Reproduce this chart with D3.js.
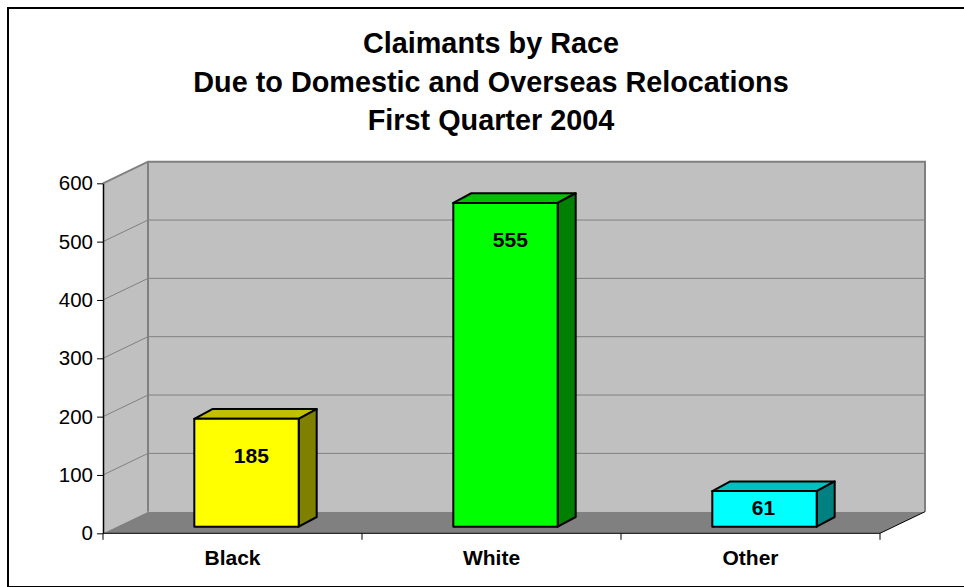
<!DOCTYPE html>
<html>
<head>
<meta charset="utf-8">
<script src="https://cdn.jsdelivr.net/npm/d3@7/dist/d3.min.js"></script>
<style>
  html, body { margin: 0; padding: 0; background: #fff; }
  svg { display: block; font-family: "Liberation Sans", Arial, sans-serif; }
</style>
</head>
<body>
<svg id="chart" width="964" height="587"></svg>
<script>
// Chart data
const titleLines = [
  "Claimants by Race",
  "Due to Domestic and Overseas Relocations",
  "First Quarter 2004"
];
const categories = ["Black", "White", "Other"];
const values = [185, 555, 61];
const yTicks = [0, 100, 200, 300, 400, 500, 600];
const faceColors = ["#ffff00", "#00ff00", "#00ffff"];
const topColors = ["#c0c000", "#00c000", "#00c0c0"];
const sideColors = ["#808000", "#008000", "#008080"];

const svg = d3.select("#chart");

// Plot frame: front plane of the 3D box and the depth offset to the back wall
const plot = { left: 103, right: 880, top: 183.3, bottom: 533.3 };
const wallDepth = { dx: 45, dy: -21.6 };
// Bars sit inside the floor: front face offset and bar thickness
const barFront = { dx: 14, dy: -6.6 };
const barDepth = { dx: 18, dy: -9.7 };
const barWidthFrac = 0.403;

const x = d3.scaleBand().domain(categories).range([plot.left, plot.right]).padding(0);
const y = d3.scaleLinear().domain([0, 600]).range([plot.bottom, plot.top]);

// Outer border
svg.append("rect")
  .attr("x", 8).attr("y", 8)
  .attr("width", 964).attr("height", 579)
  .attr("fill", "none").attr("stroke", "#000").attr("stroke-width", 2);

// Title
svg.append("g").selectAll("text")
  .data(titleLines)
  .join("text")
  .attr("x", 491)
  .attr("y", (d, i) => 53 + i * 38.5)
  .attr("text-anchor", "middle")
  .attr("font-size", 28.8)
  .attr("font-weight", "bold")
  .attr("fill", "#000")
  .text(d => d);

const line = d3.line();
const backL = plot.left + wallDepth.dx;
const backR = plot.right + wallDepth.dx;
const backTop = plot.top + wallDepth.dy;
const backBottom = plot.bottom + wallDepth.dy;

// Left side wall
svg.append("path")
  .attr("d", line([[plot.left, plot.bottom], [plot.left, plot.top], [backL, backTop], [backL, backBottom]]) + "Z")
  .attr("fill", "#c0c0c0");

// Back wall
svg.append("rect")
  .attr("x", backL).attr("y", backTop)
  .attr("width", backR - backL).attr("height", backBottom - backTop)
  .attr("fill", "#c0c0c0");

// Gridlines on both walls
const grid = svg.append("g").attr("stroke", "#808080").attr("stroke-width", 1).attr("fill", "none");
yTicks.filter(t => t > 0 && t < 600).forEach(t => {
  const yy = y(t);
  grid.append("path").attr("d", line([[plot.left, yy], [backL, yy + wallDepth.dy], [backR, yy + wallDepth.dy]]));
});

// Floor
svg.append("path")
  .attr("d", line([[plot.left, plot.bottom], [plot.right, plot.bottom], [backR, backBottom], [backL, backBottom]]) + "Z")
  .attr("fill", "#808080");

// Wall edges
const edges = svg.append("g").attr("stroke", "#808080").attr("stroke-width", 2).attr("fill", "none");
edges.append("path").attr("d", line([[plot.left, plot.top], [backL, backTop], [backR, backTop], [backR, backBottom]]));
edges.append("path").attr("d", line([[backL, backTop], [backL, backBottom]]));

// Floor front and right edges
svg.append("path")
  .attr("d", line([[plot.left, plot.bottom], [plot.right, plot.bottom], [backR, backBottom]]))
  .attr("fill", "none").attr("stroke", "#000").attr("stroke-width", 1);

// Bars
const bars = svg.append("g").attr("stroke", "#000").attr("stroke-width", 2).attr("stroke-linejoin", "round");
categories.forEach((c, i) => {
  const bw = x.bandwidth() * barWidthFrac;
  const cx = x(c) + x.bandwidth() / 2 + barFront.dx;
  const x0 = cx - bw / 2, x1 = cx + bw / 2;
  const yb = y(0) + barFront.dy;
  const yt = y(values[i]) + barFront.dy;
  const ddx = barDepth.dx, ddy = barDepth.dy;
  // top
  bars.append("path")
    .attr("d", line([[x0, yt], [x1, yt], [x1 + ddx, yt + ddy], [x0 + ddx, yt + ddy]]) + "Z")
    .attr("fill", topColors[i]);
  // side
  bars.append("path")
    .attr("d", line([[x1, yt], [x1 + ddx, yt + ddy], [x1 + ddx, yb + ddy], [x1, yb]]) + "Z")
    .attr("fill", sideColors[i]);
  // front
  bars.append("rect")
    .attr("x", x0).attr("y", yt)
    .attr("width", bw).attr("height", yb - yt)
    .attr("fill", faceColors[i]);
  // value label, set in from the left edge of the front face
  const mid = (yt + yb) / 2;
  svg.append("text")
    .attr("x", x0 + 39.5)
    .attr("y", Math.min(yt + 44, mid + 6.5))
    .attr("text-anchor", "start")
    .attr("font-size", 21)
    .attr("font-weight", "bold")
    .attr("fill", "#000")
    .text(values[i]);
});

// Value axis
const yAxis = d3.axisLeft(y).tickValues(yTicks).tickSize(6).tickPadding(4).tickSizeOuter(0);
const yg = svg.append("g").attr("transform", `translate(${plot.left},0)`).call(yAxis);
yg.select(".domain").attr("stroke", "#000").attr("stroke-width", 1.5);
yg.selectAll(".tick line").attr("stroke", "#000");
yg.selectAll(".tick text")
  .attr("font-size", 20.5)
  .attr("font-family", "\"Liberation Sans\", Arial, sans-serif")
  .attr("fill", "#000");

// Category axis
const xAxis = d3.axisBottom(x).tickSize(0).tickPadding(0);
const xg = svg.append("g").attr("transform", `translate(0,${plot.bottom})`).call(xAxis);
xg.select(".domain").remove();
xg.selectAll(".tick text")
  .attr("y", 31.5)
  .attr("dy", 0)
  .attr("font-size", 21)
  .attr("font-weight", "bold")
  .attr("font-family", "\"Liberation Sans\", Arial, sans-serif")
  .attr("fill", "#000");
// Category separator ticks
const sepTicks = categories.map(c => x(c)).concat([plot.right]);
svg.append("g").selectAll("line")
  .data(sepTicks)
  .join("line")
  .attr("x1", d => d).attr("x2", d => d)
  .attr("y1", plot.bottom).attr("y2", plot.bottom + 6.5)
  .attr("stroke", "#000").attr("stroke-width", 1);
</script>
</body>
</html>
